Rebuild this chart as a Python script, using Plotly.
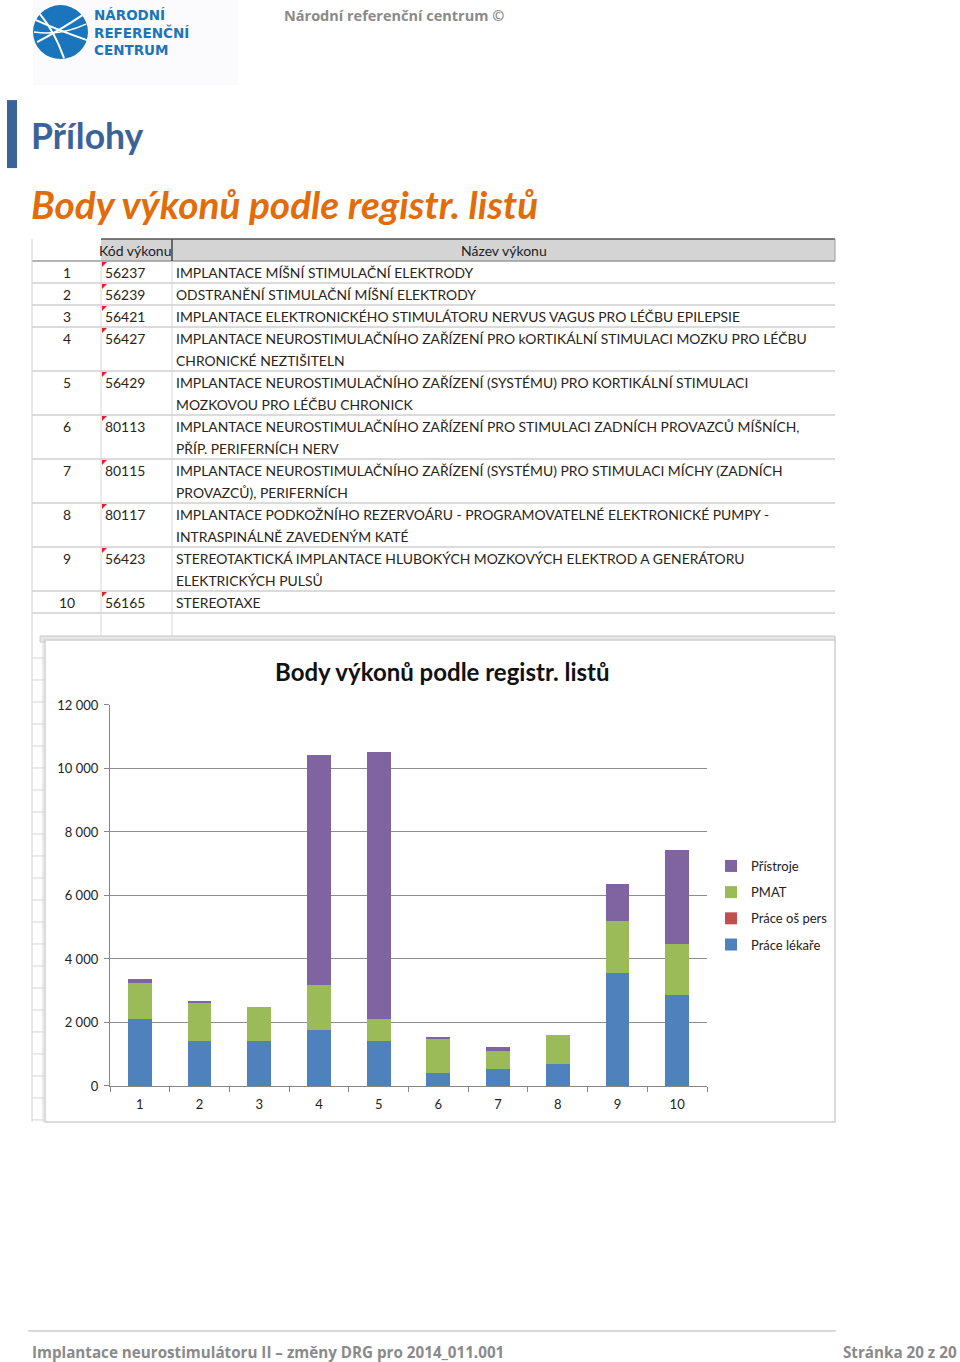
import plotly.graph_objects as go

# ---------------- data ----------------
categories = ["1", "2", "3", "4", "5", "6", "7", "8", "9", "10"]
prace_lekare = [2100, 1415, 1415, 1760, 1415, 400, 545, 680, 3545, 2850]
prace_os_pers = [0, 0, 0, 0, 0, 0, 0, 0, 0, 0]
pmat = [1150, 1185, 1070, 1425, 680, 1110, 555, 935, 1645, 1635]
pristroje = [105, 75, 0, 7245, 8440, 15, 135, 0, 1185, 2955]
series_names = ["Práce lékaře", "Práce oš pers", "PMAT", "Přístroje"]
series_colors = ["#4F81BD", "#C0504D", "#9BBB59", "#8064A2"]
y_tick_values = [0, 2000, 4000, 6000, 8000, 10000, 12000]
y_tick_labels = ["0", "2 000", "4 000", "6 000", "8 000", "10 000", "12 000"]

row_numbers = ["1", "2", "3", "4", "5", "6", "7", "8", "9", "10"]
codes = ["56237", "56239", "56421", "56427", "56429", "80113", "80115", "80117", "56423", "56165"]
names = [
    "IMPLANTACE MÍŠNÍ STIMULAČNÍ ELEKTRODY",
    "ODSTRANĚNÍ STIMULAČNÍ MÍŠNÍ ELEKTRODY",
    "IMPLANTACE ELEKTRONICKÉHO STIMULÁTORU NERVUS VAGUS PRO LÉČBU EPILEPSIE",
    "IMPLANTACE NEUROSTIMULAČNÍHO ZAŘÍZENÍ PRO kORTIKÁLNÍ STIMULACI MOZKU PRO LÉČBU\nCHRONICKÉ NEZTIŠITELN",
    "IMPLANTACE NEUROSTIMULAČNÍHO ZAŘÍZENÍ (SYSTÉMU) PRO KORTIKÁLNÍ STIMULACI\nMOZKOVOU PRO LÉČBU CHRONICK",
    "IMPLANTACE NEUROSTIMULAČNÍHO ZAŘÍZENÍ PRO STIMULACI ZADNÍCH PROVAZCŮ MÍŠNÍCH,\nPŘÍP. PERIFERNÍCH NERV",
    "IMPLANTACE NEUROSTIMULAČNÍHO ZAŘÍZENÍ (SYSTÉMU) PRO STIMULACI MÍCHY (ZADNÍCH\nPROVAZCŮ), PERIFERNÍCH",
    "IMPLANTACE PODKOŽNÍHO REZERVOÁRU - PROGRAMOVATELNÉ ELEKTRONICKÉ PUMPY -\nINTRASPINÁLNĚ ZAVEDENÝM KATÉ",
    "STEREOTAKTICKÁ IMPLANTACE HLUBOKÝCH MOZKOVÝCH ELEKTROD A GENERÁTORU\nELEKTRICKÝCH PULSŮ",
    "STEREOTAXE",
]
col_headers = ["Kód výkonu", "Název výkonu"]

page_header = "Národní referenční centrum ©"
logo_lines = ["NÁRODNÍ", "REFERENČNÍ", "CENTRUM"]
section_title = "Přílohy"
sub_title = "Body výkonů podle registr. listů"
chart_title = "Body výkonů podle registr. listů"
footer_left = "Implantace neurostimulátoru II – změny DRG pro 2014_011.001"
footer_right = "Stránka 20 z 20"

# ---------------- helpers ----------------
W, H = 960, 1362
YS, YO = 0.98839, 8.0  # vertical calibration of the rendered page


def px(x):
    return x / W


def py(y):
    return 1 - (y / YS - YO) / H


shapes = []
annotations = []


def line(x0, y0, x1, y1, color, width=1):
    shapes.append(dict(type="line", xref="paper", yref="paper",
                       x0=px(x0), y0=py(y0), x1=px(x1), y1=py(y1),
                       line=dict(color=color, width=width), layer="below"))


def rect(x0, y0, x1, y1, fill, lc=None, lw=0, layer="below"):
    shapes.append(dict(type="rect", xref="paper", yref="paper",
                       x0=px(x0), y0=py(y0), x1=px(x1), y1=py(y1),
                       fillcolor=fill, line=dict(color=lc or fill, width=lw), layer=layer))


def text(x, y, s, size, color, family="Lato", xanchor="left", yanchor="middle", align="left"):
    annotations.append(dict(x=px(x), y=py(y), xref="paper", yref="paper", text=s,
                            showarrow=False, xanchor=xanchor, yanchor=yanchor, align=align,
                            font=dict(size=size, color=color, family=family)))


# ---------------- logo ----------------
rect(33, 0, 238, 85, "#FBFBFD")
shapes.append(dict(type="circle", xref="paper", yref="paper",
                   x0=px(33), x1=px(88), y0=py(5), y1=py(59),
                   fillcolor="#1B75BC", line=dict(color="#1B75BC", width=0)))


def curve(p0, c, p1, w=2):
    d = "M {} {} Q {} {} {} {}".format(px(p0[0]), py(p0[1]), px(c[0]), py(c[1]), px(p1[0]), py(p1[1]))
    shapes.append(dict(type="path", xref="paper", yref="paper", path=d,
                       line=dict(color="white", width=w)))


curve((36, 20), (58, 30), (87, 40))
curve((37, 42), (60, 30), (84, 14))
curve((40, 14), (55, 32), (64, 58))
curve((34, 32), (60, 36), (86, 24), 1.5)
text(92, 32, "<b>" + "<br>".join(logo_lines) + "</b>", 13.5, "#1B75BC", "DejaVu Sans")

text(394, 15, "<b>" + page_header + "</b>", 14.5, "#8A8A8A", "Open Sans", xanchor="center")

# ---------------- headings ----------------
rect(7, 100, 17, 168, "#3A6397")
text(29, 135, "<b>" + section_title + "</b>", 35.5, "#3A6397", "Lato")
text(29, 204, "<b><i>" + sub_title + "</i></b>", 38.8, "#E36C0A", "Lato")

# ---------------- table ----------------
tbl_l, tbl_r = 32, 835
c1, c2 = 101, 172
hdr_top, hdr_bot = 239, 261
rect(c1, hdr_top, tbl_r, hdr_bot, "#D4D4D4")
line(c1, hdr_top, tbl_r, hdr_top, "#555555", 1.5)
line(tbl_l, hdr_bot, tbl_r, hdr_bot, "#9A9A9A", 1.5)
line(c2, hdr_top, c2, hdr_bot, "#444444", 1.5)
line(tbl_r, hdr_top, tbl_r, hdr_bot, "#9A9A9A", 1)
text(97, 250, col_headers[0], 14, "#222222")
text((c2 + tbl_r) / 2, 250, col_headers[1], 14, "#222222", xanchor="center")

LH = 22
y = hdr_bot
for i in range(len(codes)):
    lines_ = names[i].split("\n")
    top = y
    for k, ln in enumerate(lines_):
        text(174, top + 11 + LH * k, ln, 13.9, "#2A2418")
    text(67, top + 11, row_numbers[i], 13.9, "#2A2418", xanchor="center")
    text(103, top + 11, codes[i], 13.9, "#2A2418")
    # red comment marker
    d = "M {} {} L {} {} L {} {} Z".format(px(c1 + 1), py(top + 1), px(c1 + 6), py(top + 1), px(c1 + 1), py(top + 6))
    shapes.append(dict(type="path", xref="paper", yref="paper", path=d,
                       fillcolor="#E0202A", line=dict(color="#E0202A", width=0)))
    y = top + LH * len(lines_)
    line(tbl_l, y, tbl_r, y, "#CFCFCF", 1.5)
line(tbl_l, hdr_top, tbl_l, 1122, "#D0D0D0", 1)
line(c1, hdr_bot, c1, 636, "#D6D6D6", 1)
line(c2, hdr_bot, c2, 636, "#D6D6D6", 1)

# excel strip left of chart
line(43, 636, 43, 1122, "#D6D6D6", 1)
yy = 658
while yy < 1122:
    line(tbl_l, yy, 45, yy, "#D6D6D6", 1)
    yy += 22

# chart frame
rect(40, 636, 835, 642, "#E6E6E6", "#C8C8C8", 1)
rect(45, 640, 835, 1122, "#FFFFFF", "#CFCFCF", 1.5)
rect(49, 645, 833, 1120, "#FFFFFF")

text(442, 671, "<b>" + chart_title + "</b>", 24, "#111111", "Lato", xanchor="center")

# footer
line(28, 1331, 836, 1331, "#DADADA", 2)
text(30, 1352, "<b>" + footer_left + "</b>", 15.2, "#8A8A8A", "Open Sans")
text(959, 1352, "<b>" + footer_right + "</b>", 15.2, "#8A8A8A", "Open Sans", xanchor="right")

# ---------------- chart ----------------
fig = go.Figure()
n = len(series_names)
for idx, (name, vals, col) in enumerate(zip(series_names, [prace_lekare, prace_os_pers, pmat, pristroje], series_colors)):
    fig.add_trace(go.Bar(x=categories, y=vals, name=name, marker=dict(color=col, line=dict(width=0)),
                         legendgroup=name, legendrank=1000 + (n - idx)))

fig.update_layout(
    width=W, height=H, autosize=False,
    margin=dict(l=0, r=0, t=0, b=0),
    paper_bgcolor="white", plot_bgcolor="rgba(0,0,0,0)",
    barmode="stack", bargap=0.6,
    shapes=shapes, annotations=annotations,
    showlegend=True,
    legend=dict(x=px(711), y=py(851), xanchor="left", yanchor="top",
                traceorder="grouped", tracegroupgap=6.3,
                font=dict(family="Lato", size=13, color="#222222"),
                bgcolor="rgba(0,0,0,0)"),
    xaxis=dict(domain=[px(110), px(707)], type="category", tickson="boundaries",
               ticks="outside", ticklen=5, tickcolor="#868686",
               showline=True, linecolor="#868686", linewidth=1.3,
               showgrid=False, zeroline=False, ticklabelstandoff=6,
               tickfont=dict(family="Lato", size=13, color="#222222")),
    yaxis=dict(domain=[py(1086), py(705)], range=[0, 12000],
               tickvals=y_tick_values, ticktext=y_tick_labels,
               ticks="outside", ticklen=5, tickcolor="#868686",
               showline=True, linecolor="#868686", linewidth=1.3,
               showgrid=True, gridcolor="#8C8C8C", gridwidth=1.2,
               zeroline=False, ticklabelstandoff=3,
               tickfont=dict(family="Lato", size=13, color="#222222")),
)

fig.write_html("out.html")
